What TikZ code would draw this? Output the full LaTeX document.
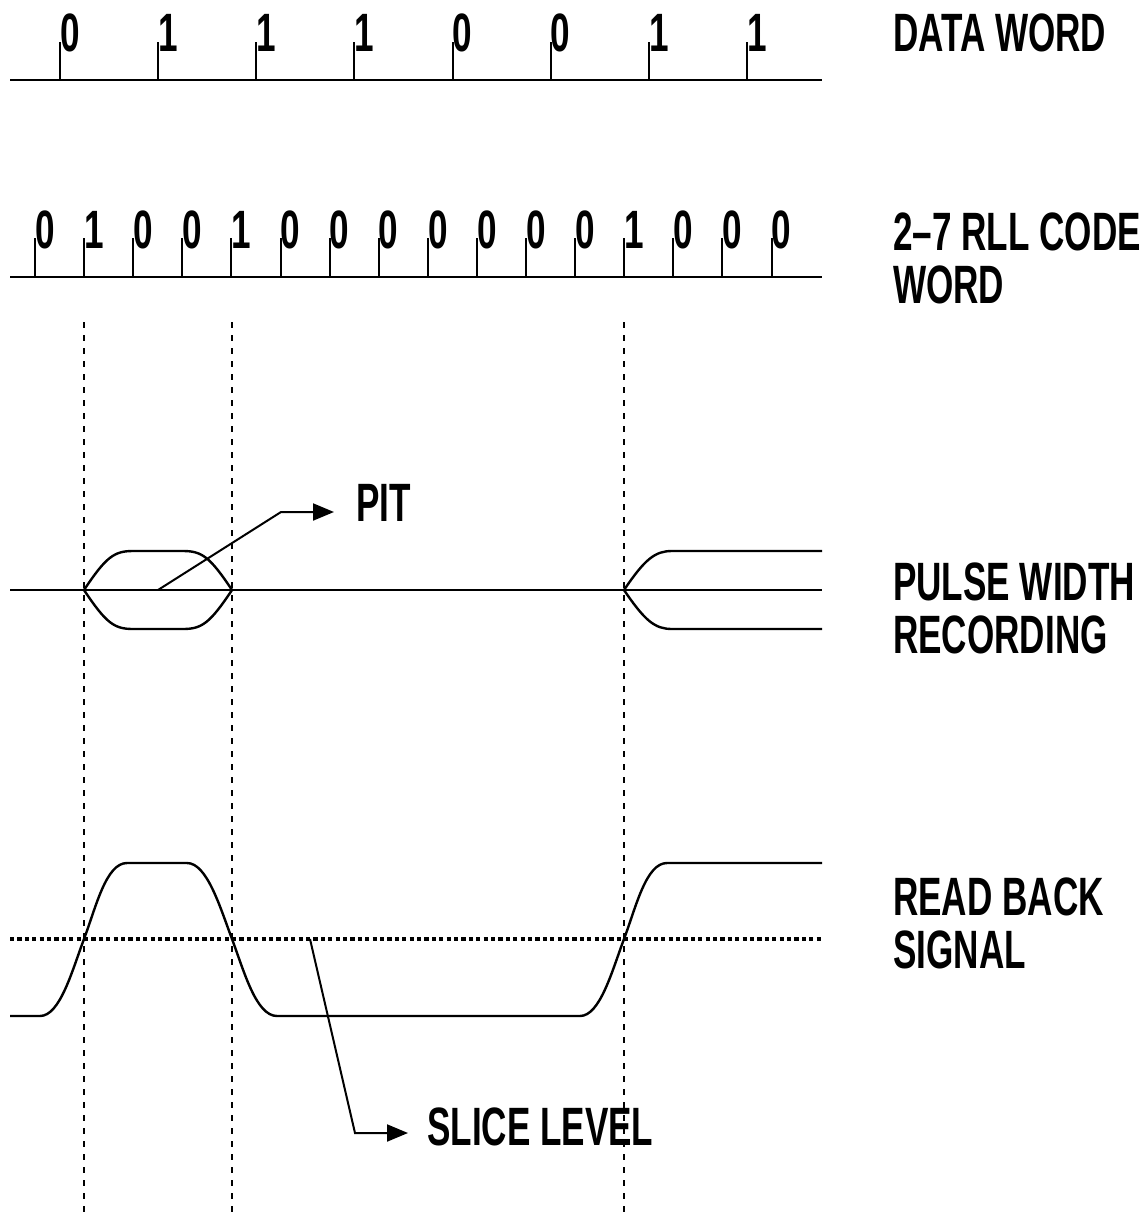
\documentclass[tikz,border=0pt]{standalone}
\usepackage{fontspec}
\setmainfont{Liberation Sans}[FakeStretch=0.65]
\usetikzlibrary{arrows.meta, positioning}

\tikzset{
  axisline/.style={line width=2.6pt},
  bittick/.style={line width=2pt},
  trace/.style={line width=2.4pt},
  guide/.style={line width=1.4pt, dash pattern=on 6pt off 7pt},
  slicedots/.style={line width=4.5pt, dash pattern=on 4.2pt off 3.2pt},
  pointer/.style={line width=2pt, -{Triangle[length=21pt,width=17pt]}},
  digit/.style={anchor=base west, inner sep=0pt, font=\fontsize{54}{53}\selectfont\bfseries},
  rowlabel/.style={anchor=base west, inner sep=0pt, align=left, font=\fontsize{54}{53}\selectfont\bfseries}
}

\begin{document}
\begin{tikzpicture}[x=1pt, y=-1pt]
  \useasboundingbox (0,0) rectangle (1146,1215);

  % Data word
  \draw[axisline] (10,80) -- (822,80);
  \foreach \bit [count=\k from 0] in {0,1,1,1,0,0,1,1}{
    \draw[bittick] ({60+98.15*\k},80) -- ++(0,-38);
    \node[digit] (d\k) at ({60+98.15*\k},52) {\bit};
  }
  \node[rowlabel] (dataw) at (893,52) {DATA WORD};

  % 2-7 RLL code word
  \draw[axisline] (10,277) -- (822,277);
  \foreach \bit [count=\k from 0] in {0,1,0,0,1,0,0,0,0,0,0,0,1,0,0,0}{
    \draw[bittick] ({35+49.1*\k},277) -- ++(0,-39);
    \node[digit] (c\k) at ({35+49.1*\k},248) {\bit};
  }
  \node[rowlabel] (codew) at (893,303) {2--7 RLL CODE\\WORD};

  % Guides through the ones
  \foreach \gx in {84,232,624}
    \draw[guide] (\gx,322) -- (\gx,1215);

  % Pulse width recording
  \draw[trace] (10,590) -- (822,590);
  \draw[trace] (84,590) .. controls (106,557) and (114,551) .. (133,551) -- (183,551)
    .. controls (202,551) and (210,557) .. (232,590);
  \draw[trace] (84,590) .. controls (106,623) and (114,629) .. (133,629) -- (183,629)
    .. controls (202,629) and (210,623) .. (232,590);
  \draw[trace] (624,590) .. controls (645,559) and (655,551) .. (672,551) -- (822,551);
  \draw[trace] (624,590) .. controls (645,621) and (655,629) .. (672,629) -- (822,629);
  \node[rowlabel] (pwr) at (893,653) {PULSE WIDTH\\RECORDING};

  % Pit pointer
  \coordinate (pitfoot) at (158,590);
  \coordinate (pitknee) at (281,512);
  \node[digit] (pit) at (356,521) {PIT};
  \coordinate (pithead) at ([xshift=-22pt]pit.base west);
  \draw[pointer] (pitfoot) -- (pitknee) -- (pitknee -| pithead);

  % Read back signal
  \draw[slicedots] (10,939) -- (822,939);
  \draw[trace] (10,1016) -- (40,1016) .. controls (60,1016) and (72,971) .. (84,939)
    .. controls (96,907) and (106,863) .. (127,863) -- (187,863)
    .. controls (207,863) and (220,907) .. (232,939)
    .. controls (244,971) and (256,1016) .. (277,1016) -- (580,1016)
    .. controls (600,1016) and (612,971) .. (624,939)
    .. controls (636,907) and (646,863) .. (667,863) -- (822,863);
  \node[rowlabel] (rbs) at (893,968) {READ BACK\\SIGNAL};

  % Slice level pointer
  \coordinate (slicefoot) at (310,939);
  \coordinate (sliceknee) at (355,1133);
  \node[digit] (slicelbl) at (427,1145) {SLICE LEVEL};
  \coordinate (slicehead) at ([xshift=-19pt]slicelbl.base west);
  \draw[pointer] (slicefoot) -- (sliceknee) -- (sliceknee -| slicehead);
\end{tikzpicture}
\end{document}
